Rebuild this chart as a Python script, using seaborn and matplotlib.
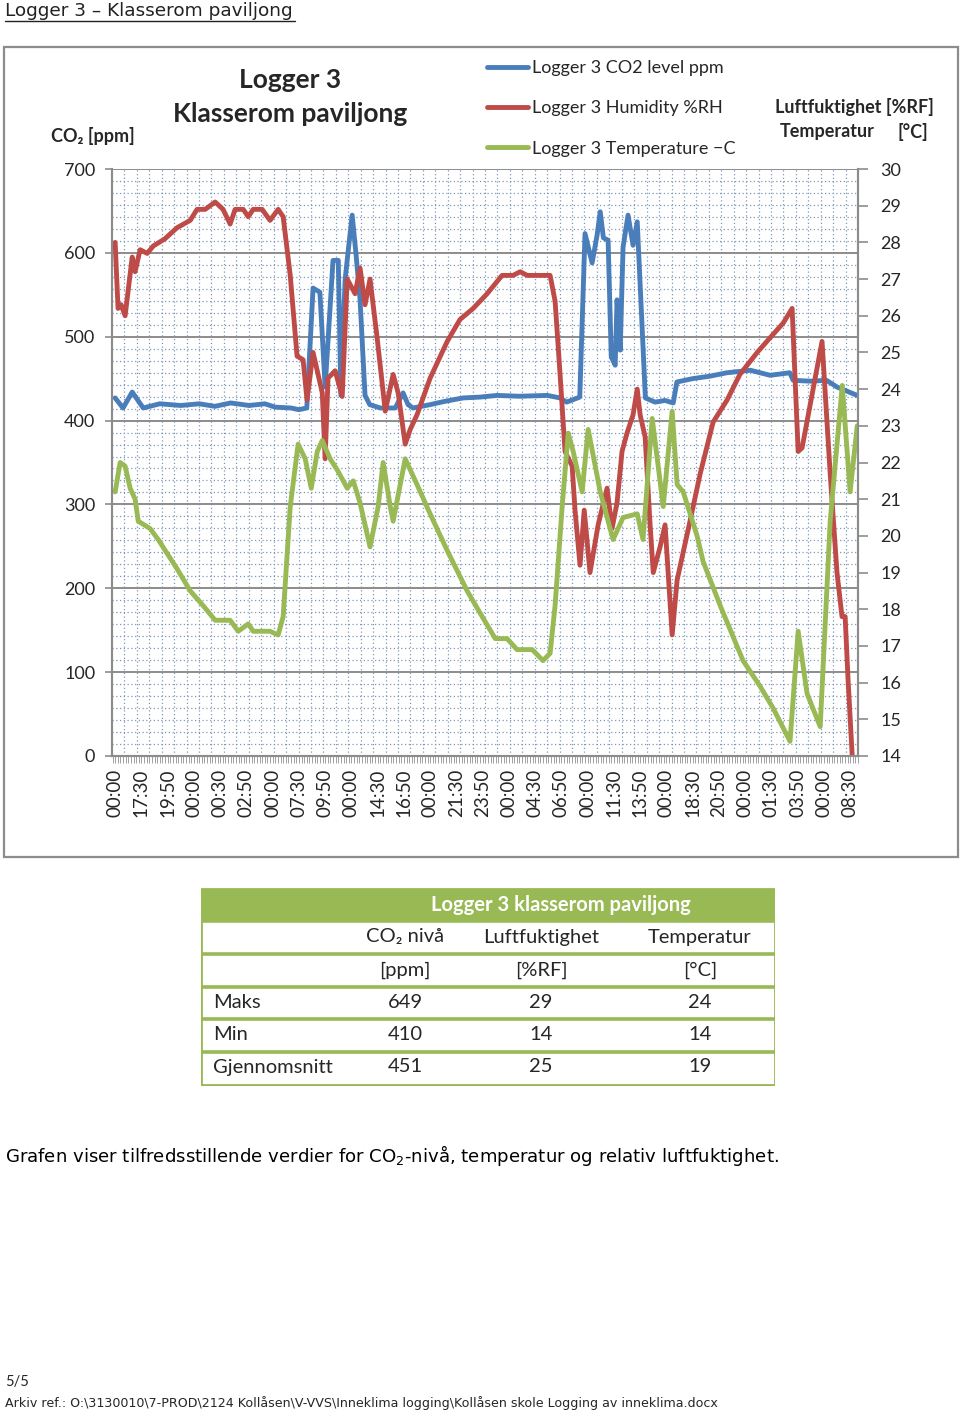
import numpy as np
import matplotlib
matplotlib.use('Agg')
import matplotlib.pyplot as plt
from matplotlib.ticker import MultipleLocator, AutoMinorLocator
from matplotlib.lines import Line2D
from matplotlib.patches import Rectangle
import seaborn as sns

sns.set_theme(style='white')
plt.rcParams['font.family'] = ['Lato', 'DejaVu Sans']

# category labels on the time axis (one label every 10 samples)
time_labels = ['00:00', '17:30', '19:50', '00:00', '00:30', '02:50', '00:00', '07:30',
               '09:50', '00:00', '14:30', '16:50', '00:00', '21:30', '23:50', '00:00',
               '04:30', '06:50', '00:00', '11:30', '13:50', '00:00', '18:30', '20:50',
               '00:00', '01:30', '03:50', '00:00', '08:30']

# CO2 level (ppm)
co2_t = [0, 3, 6.5, 10.7, 17, 25, 32, 38, 44, 51, 57, 61, 67, 70, 73,
         75.4, 78, 80, 83, 85, 86, 87.6, 88.8, 90.3, 91.8, 93.3, 95.2, 97,
         101, 106.7, 109.7, 111.6, 113.5, 120, 125.7, 132.6, 139, 145.5, 154,
         164.6, 169.5, 172, 177, 179, 181.7, 183.6, 184.8, 186, 187.8, 189,
         190.5, 191.2, 192.4, 193.5, 195.4, 197.3, 198.9, 202, 205.7, 209.5,
         212.6, 214, 220, 226.7, 233, 242, 249.5, 257, 258.3, 264.8, 271, 275, 282.7]
co2_ppm = [427, 415, 434, 415, 420, 418, 420, 417, 421, 418, 420, 416, 415, 413, 415,
           558, 553, 440, 591, 591, 430, 568, 603, 645, 597, 544, 430, 419,
           415, 415, 433, 419, 415, 419, 423, 427, 428, 430, 429,
           430, 427, 422, 428, 623, 588, 621, 649, 618, 615, 476,
           466, 544, 484, 607, 645, 609, 637, 427, 422, 424,
           421, 446, 450, 453, 457, 460, 454, 457, 448, 447, 448, 440, 430]

# relative humidity (%RH)
rh_t = [0, 1.1, 2.3, 3.8, 6.5, 7.6, 9.5, 12.2, 14.5, 19, 23.6, 28.6, 31.2, 34.3,
        38.1, 41.1, 43.8, 45.7, 48.8, 50.7, 52.6, 56, 59, 62.1, 64, 66.7, 69.3,
        71.6, 73.1, 75.4, 78.9, 80, 81.1, 83.8, 86.5, 88.4, 91.4, 93.3, 95.2,
        97.1, 99.8, 102.9, 105.9, 107.8, 110.5, 112.4, 115, 120, 126.5, 131.4,
        136.4, 141.7, 147.4, 151.6, 154.3, 157, 165.7, 167.6, 169.5, 171.4,
        174.1, 175.2, 177.1, 178.7, 180.9, 184, 187.4, 189.3, 191.2, 193.1, 195,
        197.3, 198.9, 200, 201.9, 203.8, 205, 207.6, 209.5, 212.2, 214.1, 219,
        222.9, 227.8, 233.1, 238, 244.6, 249.5, 254.5, 257.9, 260.2, 261.7,
        269.3, 272.4, 275, 276.9, 278.1, 279.2, 280.8]
rh_pct = [28.0, 26.2, 26.3, 26.0, 27.6, 27.2, 27.8, 27.7, 27.9, 28.1, 28.4, 28.6, 28.9, 28.9,
          29.1, 28.9, 28.5, 28.9, 28.9, 28.7, 28.9, 28.9, 28.6, 28.9, 28.7, 27.1, 24.9,
          24.8, 23.7, 25.0, 23.9, 22.1, 24.3, 24.5, 23.8, 27.0, 26.6, 27.3, 26.3,
          27.0, 25.4, 23.4, 24.4, 23.9, 22.5, 22.9, 23.3, 24.3, 25.3, 25.9,
          26.2, 26.6, 27.1, 27.1, 27.2, 27.1, 27.1, 26.4, 24.4, 22.3,
          21.9, 20.7, 19.2, 20.7, 19.0, 20.3, 21.3, 20.2, 20.9, 22.3, 22.8,
          23.3, 24.0, 23.3, 22.7, 20.3, 19.0, 19.7, 20.3, 17.3, 18.8, 20.4,
          21.7, 23.1, 23.7, 24.4, 25.0, 25.4, 25.8, 26.2, 22.3, 22.4,
          25.3, 21.7, 19.0, 17.8, 17.8, 16.1, 14.0]

# temperature (degC)
temp_t = [0, 1.9, 3.8, 5.7, 7.6, 8.8, 13.3, 16.4, 23.6, 28.6, 33.5, 38.1, 43.8, 46.9,
          50.7, 52.6, 59, 62.1, 64, 66.7, 69.7, 72.4, 74.7, 77, 78.9, 81.9, 84.6,
          88.4, 90.7, 93.3, 97.1, 100.2, 102.1, 104.8, 105.9, 110.5, 115, 120,
          126.5, 134.1, 139, 144.8, 149.3, 153.1, 158.9, 163, 165.7, 167.6, 170.3,
          172.6, 174.5, 177.9, 180.2, 184.8, 189.7, 193.5, 198.9, 201.1, 204.6,
          208.8, 212.2, 214.1, 216.4, 221.7, 224, 230.5, 239.2, 245.7, 250.7,
          257.1, 260.2, 263.6, 268.6, 272.4, 277, 280, 282.7]
temp_c = [21.2, 22.0, 21.9, 21.3, 21.0, 20.4, 20.2, 19.9, 19.1, 18.5, 18.1, 17.7, 17.7, 17.4,
          17.6, 17.4, 17.4, 17.3, 17.8, 20.8, 22.5, 22.1, 21.3, 22.3, 22.6, 22.1, 21.8,
          21.3, 21.5, 20.9, 19.7, 20.8, 22.0, 20.8, 20.4, 22.1, 21.4, 20.6,
          19.6, 18.5, 17.9, 17.2, 17.2, 16.9, 16.9, 16.6, 16.8, 18.1, 20.8,
          22.8, 22.3, 21.2, 22.9, 21.2, 19.9, 20.5, 20.6, 19.9, 23.2,
          20.8, 23.4, 21.4, 21.2, 20.0, 19.3, 18.1, 16.6, 15.9, 15.3,
          14.4, 17.4, 15.7, 14.8, 20.4, 24.1, 21.2, 23.0]

# summary table
table_title = 'Logger 3 klasserom paviljong'
table_cols = ['CO₂ nivå', 'Luftfuktighet', 'Temperatur']
table_units = ['[ppm]', '[%RF]', '[°C]']
table_rows = ['Maks', 'Min', 'Gjennomsnitt']
co2_stats = [649, 410, 451]
rh_stats = [29, 14, 25]
temp_stats = [24, 14, 19]

blue = '#4A7EBB'
red = '#BE4B48'
green = '#98B954'
grid_gray = '#8C8C8C'
dot_col = '#7E98BA'

W, H = 960, 1413
fig = plt.figure(figsize=(W / 100, H / 100), dpi=100)


def fx(px):
    return px / W


def fy(py):
    return 1 - py / H


# page heading
fig.text(fx(5), fy(11), 'Logger 3 – Klasserom paviljong', family='DejaVu Sans',
         fontsize=13.3, va='center', ha='left', color='#222222')
fig.add_artist(Line2D([fx(5), fx(295)], [fy(21), fy(21)], color='#222222', lw=1))

# chart frame
fig.add_artist(Rectangle((fx(4), fy(857)), fx(958) - fx(4), fy(47) - fy(857),
                         transform=fig.transFigure, fill=False, edgecolor='#8C8C8C', lw=1.6))

ax = fig.add_axes([fx(112), fy(756), fx(858) - fx(112), fy(169) - fy(756)])
ax2 = ax.twinx()

sns.lineplot(x=co2_t, y=co2_ppm, ax=ax, color=blue, lw=3.5, sort=False,
             estimator=None, solid_joinstyle='round', solid_capstyle='round')
sns.lineplot(x=rh_t, y=rh_pct, ax=ax2, color=red, lw=3.5, sort=False,
             estimator=None, solid_joinstyle='round', solid_capstyle='round')
sns.lineplot(x=temp_t, y=temp_c, ax=ax2, color=green, lw=3.5, sort=False,
             estimator=None, solid_joinstyle='round', solid_capstyle='round')

x0, x1 = -1.2, 283.0
ax.set_xlim(x0, x1)
ax.set_ylim(0, 700)
ax2.set_ylim(14, 30)

# grid
ax.yaxis.set_major_locator(MultipleLocator(100))
ax.yaxis.set_minor_locator(AutoMinorLocator(7))
ax.grid(axis='y', which='major', color=grid_gray, lw=1.4, ls='-')
ax.grid(axis='y', which='minor', color=dot_col, lw=0.9, ls=(0, (1, 2)))
ax.grid(axis='x', which='both', visible=False)
ax.vlines(np.linspace(x0, x1, 61)[1:-1], 0, 700, colors=dot_col, lw=0.9,
          linestyles=(0, (1, 2)), zorder=0.5)
ax.set_axisbelow(True)

# x axis: dense category ticks and rotated labels
ax.set_xticks(range(0, 281, 10))
ax.set_xticklabels(time_labels, rotation=90, fontsize=13.5)
ax.xaxis.set_minor_locator(MultipleLocator(1))
ax.tick_params(axis='x', which='both', bottom=True, direction='out', length=5,
               width=0.7, color='#A0A0A0', pad=4)
ax.tick_params(axis='y', which='major', left=True, direction='out', length=5,
               width=1.2, color=grid_gray, labelsize=13, pad=7)
ax.tick_params(axis='y', which='minor', left=False, length=0)
ax.set_xlabel('')
ax.set_ylabel('')
# top boundary at 700 is drawn dotted in the original
ax.yaxis.get_major_ticks()[-1].gridline.set_linestyle((0, (1, 2)))

ax2.set_yticks(range(14, 31))
ax2.tick_params(axis='y', which='major', right=True, direction='out', length=7,
                width=1.2, color=grid_gray, labelsize=13, pad=9)
ax2.set_ylabel('')
ax2.grid(False)

for a in (ax, ax2):
    a.spines['top'].set_visible(False)
    for s in ('left', 'right', 'bottom'):
        a.spines[s].set_color(grid_gray)
        a.spines[s].set_linewidth(1.5)
ax2.patch.set_visible(False)

# titles and axis captions
fig.text(fx(290), fy(80), 'Logger 3', fontsize=19, fontweight='bold', ha='center', va='center')
fig.text(fx(290), fy(114), 'Klasserom paviljong', fontsize=19, fontweight='bold',
         ha='center', va='center')
fig.text(fx(93), fy(136), 'CO₂ [ppm]', fontsize=13, fontweight='bold', ha='center', va='center')
fig.text(fx(854), fy(107), 'Luftfuktighet [%RF]', fontsize=13, fontweight='bold',
         ha='center', va='center')
fig.text(fx(780), fy(132), 'Temperatur', fontsize=13, fontweight='bold', ha='left', va='center')
fig.text(fx(928), fy(132), '[°C]', fontsize=13, fontweight='bold', ha='right', va='center')

handles = [Line2D([], [], color=c, lw=3.5) for c in (blue, red, green)]
labels = ['Logger 3 CO2 level ppm', 'Logger 3 Humidity %RH', 'Logger 3 Temperature \u2212C']
fig.legend(handles, labels, loc='upper left', bbox_to_anchor=(fx(487), fy(60)),
           frameon=False, fontsize=13, handlelength=2.25, handletextpad=0.25,
           labelspacing=1.35, borderpad=0, borderaxespad=0)

# summary table
tab = fig.add_axes([fx(201), fy(1086), fx(775) - fx(201), fy(888) - fy(1086)])
tab.set_xlim(201, 775)
tab.set_ylim(1086, 888)
tab.axis('off')
tab.add_patch(Rectangle((201, 889), 574, 32, color=green, lw=0))
tab.add_patch(Rectangle((201, 889), 574, 196, fill=False, edgecolor=green, lw=2))
tab.hlines([921, 954, 987, 1019, 1052], 201, 775, colors=green, lw=2.6)
tab.text(561, 905, table_title, color='white', fontsize=14.5, fontweight='bold',
         ha='center', va='center')
col_x = [405, 541, 700]
for cx, name, unit in zip(col_x, table_cols, table_units):
    tab.text(cx, 937, name, fontsize=14.5, ha='center', va='center')
    tab.text(cx, 970, unit, fontsize=14.5, ha='center', va='center')
for ry, name, a, b, c in zip([1002, 1035, 1067], table_rows, co2_stats, rh_stats, temp_stats):
    tab.text(213, ry, name, fontsize=14.5, ha='left', va='center')
    for cx, v in zip(col_x, (a, b, c)):
        tab.text(cx, ry, str(v), fontsize=14.5, ha='center', va='center')

# caption and footer
fig.text(fx(5), fy(1155), 'Grafen viser tilfredsstillende verdier for CO$_2$-nivå, '
         'temperatur og relativ luftfuktighet.', family='DejaVu Sans', fontsize=13.1,
         ha='left', va='center', color='black')
fig.text(fx(5), fy(1382), '5/5', fontsize=10.5, ha='left', va='center')
fig.text(fx(5), fy(1403), r'Arkiv ref.: O:\3130010\7-PROD\2124 Kollåsen\V-VVS\Inneklima logging'
         r'\Kollåsen skole Logging av inneklima.docx', family='DejaVu Sans', fontsize=9.1,
         ha='left', va='center')

fig.savefig('out.png', dpi=100)
